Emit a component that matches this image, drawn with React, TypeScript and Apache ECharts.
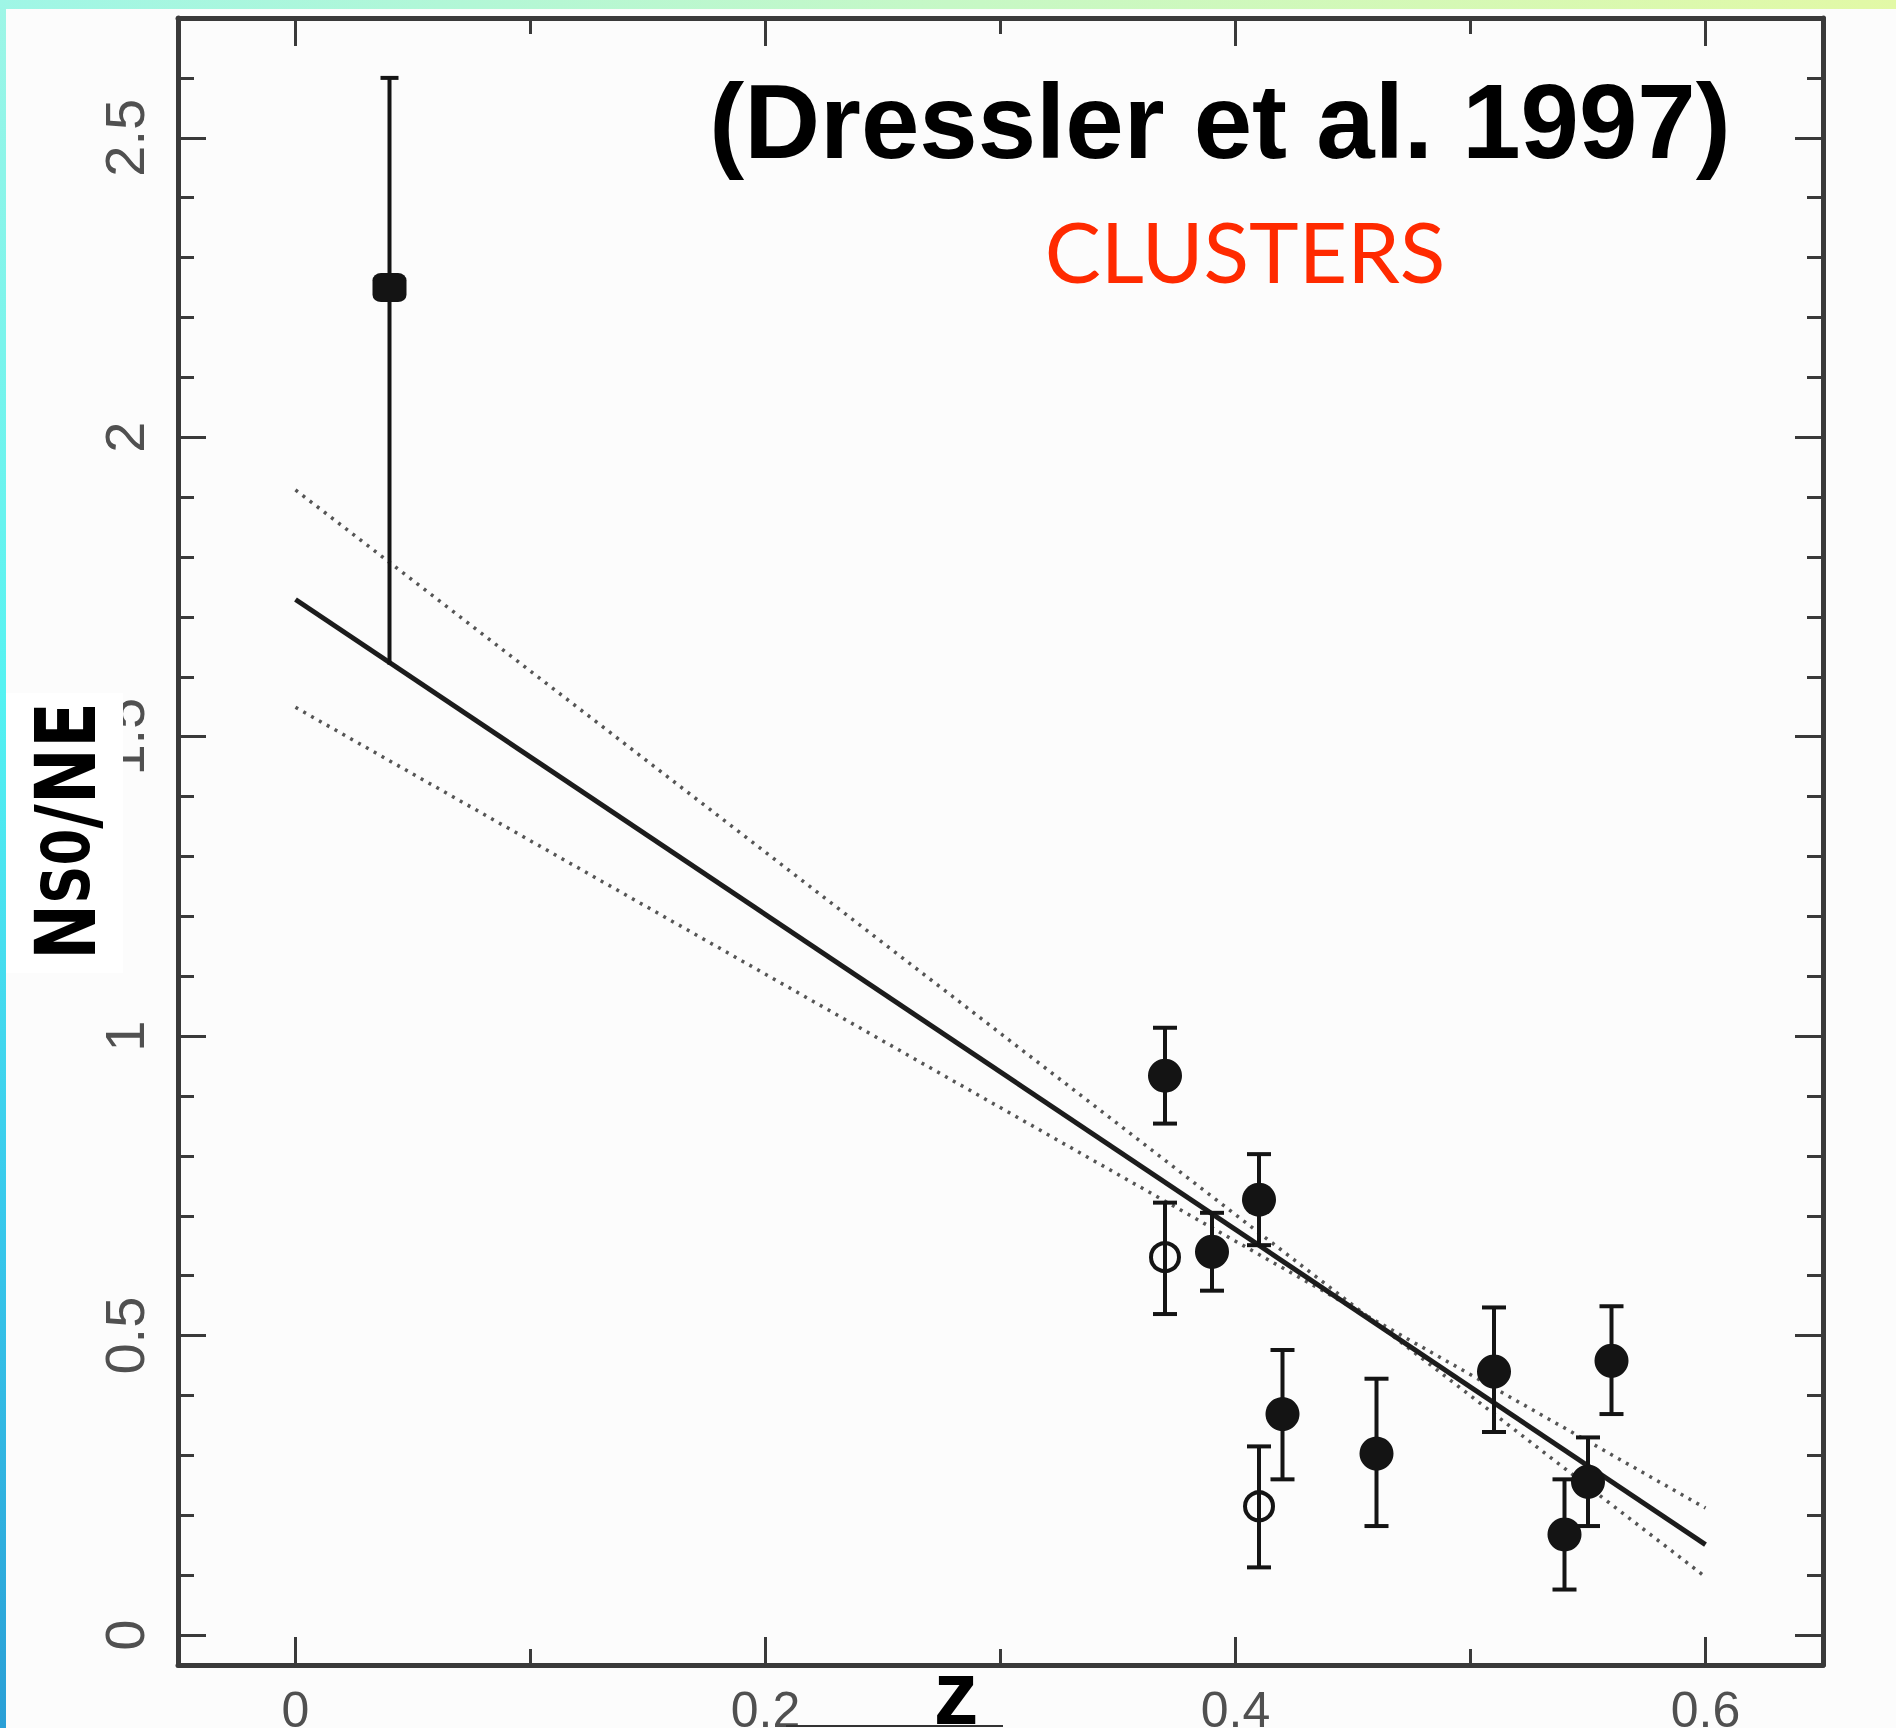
import React, { useEffect, useRef } from "react";
import * as echarts from "echarts";

// ---- data ----
const filledZ = [0.37, 0.39, 0.41, 0.42, 0.46, 0.51, 0.56, 0.54, 0.55];
const filledRatio = [0.934, 0.64, 0.727, 0.369, 0.303, 0.44, 0.458, 0.168, 0.256];
const filledLow = [0.854, 0.575, 0.651, 0.26, 0.182, 0.339, 0.369, 0.076, 0.182];
const filledHigh = [1.014, 0.705, 0.803, 0.476, 0.428, 0.547, 0.549, 0.26, 0.33];

const openZ = [0.37, 0.41];
const openRatio = [0.631, 0.215];
const openLow = [0.536, 0.113];
const openHigh = [0.722, 0.315];

const localZ = [0.04];
const localRatio = [2.25];
const localLow = [1.62];
const localHigh = [2.6];

const fitZ = [0, 0.6];
const fitRatio = [1.729, 0.151];
const bandAZ = [0, 0.6];
const bandARatio = [1.912, 0.097];
const bandBZ = [0, 0.6];
const bandBRatio = [1.549, 0.212];

const xMajorTicks = [0, 0.2, 0.4, 0.6];
const xMinorTicks = [0.1, 0.3, 0.5];
const yMajorTicks = [0, 0.5, 1, 1.5, 2, 2.5];
const yMinorTicks = [
  0.1, 0.2, 0.3, 0.4, 0.6, 0.7, 0.8, 0.9, 1.1, 1.2, 1.3, 1.4, 1.6, 1.7, 1.8, 1.9,
  2.1, 2.2, 2.3, 2.4, 2.6,
];

const titleText = "(Dressler et al. 1997)";
const subtitleText = "CLUSTERS";
const xName = "z";

const X_MIN = -0.05;
const X_MAX = 0.65;
const Y_MIN = -0.05;
const Y_MAX = 2.7;

const AXIS_COLOR = "#3a3a3a";
const INK = "#141414";

function xAxisDef(position: "top" | "bottom", ticks: number[], len: number, line: boolean, labels: boolean) {
  return {
    type: "value",
    position,
    min: X_MIN,
    max: X_MAX,
    axisLine: { show: line, onZero: false, lineStyle: { color: AXIS_COLOR, width: 5 } },
    axisTick: {
      show: true,
      inside: true,
      length: len,
      customValues: ticks,
      lineStyle: { color: AXIS_COLOR, width: 3 },
    },
    axisLabel: labels
      ? {
          show: true,
          customValues: ticks,
          margin: 20,
          fontSize: 50,
          color: "#505050",
          fontFamily: "'Liberation Sans', Arial, sans-serif",
        }
      : { show: false },
    splitLine: { show: false },
  };
}

function yAxisDef(position: "left" | "right", ticks: number[], len: number, line: boolean, labels: boolean) {
  return {
    type: "value",
    position,
    min: Y_MIN,
    max: Y_MAX,
    axisLine: { show: line, onZero: false, lineStyle: { color: AXIS_COLOR, width: 5 } },
    axisTick: {
      show: true,
      inside: true,
      length: len,
      customValues: ticks,
      lineStyle: { color: AXIS_COLOR, width: 3 },
    },
    axisLabel: labels
      ? {
          show: true,
          customValues: ticks,
          rotate: 90,
          margin: 26,
          fontSize: 56,
          color: "#505050",
          fontFamily: "'Liberation Sans', Arial, sans-serif",
        }
      : { show: false },
    splitLine: { show: false },
  };
}

function makeErrorRender(capHalf: number, lowCap: boolean) {
  return (params: any, api: any) => {
    const x = api.value(0);
    const lo = api.value(1);
    const hi = api.value(2);
    const top = api.coord([x, hi]);
    const bot = api.coord([x, lo]);
    const style = { stroke: INK, lineWidth: 4 };
    const children: any[] = [
      { type: "line", shape: { x1: top[0], y1: top[1], x2: bot[0], y2: bot[1] }, style },
      { type: "line", shape: { x1: top[0] - capHalf, y1: top[1], x2: top[0] + capHalf, y2: top[1] }, style },
    ];
    if (lowCap) {
      children.push({
        type: "line",
        shape: { x1: bot[0] - capHalf, y1: bot[1], x2: bot[0] + capHalf, y2: bot[1] },
        style,
      });
    }
    return { type: "group", children };
  };
}

export default function App() {
  const ref = useRef<HTMLDivElement>(null);

  useEffect(() => {
    if (!ref.current) return;
    const chart = echarts.init(ref.current, undefined, { renderer: "svg" });

    const clusterBars = [
      ...filledZ.map((z, i) => [z, filledLow[i], filledHigh[i]]),
      ...openZ.map((z, i) => [z, openLow[i], openHigh[i]]),
    ];
    const localBars = localZ.map((z, i) => [z, localLow[i], localHigh[i]]);

    const option: any = {
      animation: false,
      backgroundColor: "#fcfcfc",
      grid: {
        left: 178,
        right: 73,
        top: 18,
        bottom: 63,
        containLabel: false,
        outerBoundsMode: "none",
      },
      xAxis: [
        xAxisDef("bottom", xMajorTicks, 28, true, true),
        xAxisDef("bottom", xMinorTicks, 16, false, false),
        xAxisDef("top", xMajorTicks, 28, true, false),
        xAxisDef("top", xMinorTicks, 16, false, false),
      ],
      yAxis: [
        yAxisDef("left", yMajorTicks, 28, true, true),
        yAxisDef("left", yMinorTicks, 16, false, false),
        yAxisDef("right", yMajorTicks, 28, true, false),
        yAxisDef("right", yMinorTicks, 16, false, false),
      ],
      series: [
        {
          type: "line",
          data: bandAZ.map((z, i) => [z, bandARatio[i]]),
          showSymbol: false,
          symbol: "none",
          lineStyle: { color: "#555", width: 3.5, type: [3, 6] },
          z: 2,
        },
        {
          type: "line",
          data: bandBZ.map((z, i) => [z, bandBRatio[i]]),
          showSymbol: false,
          symbol: "none",
          lineStyle: { color: "#555", width: 3.5, type: [3, 6] },
          z: 2,
        },
        {
          type: "line",
          data: fitZ.map((z, i) => [z, fitRatio[i]]),
          showSymbol: false,
          symbol: "none",
          lineStyle: { color: "#1c1c1c", width: 5 },
          z: 3,
        },
        {
          type: "custom",
          renderItem: makeErrorRender(12, true),
          data: clusterBars,
          encode: { x: 0, y: [1, 2] },
          z: 4,
        },
        {
          type: "custom",
          renderItem: makeErrorRender(9, false),
          data: localBars,
          encode: { x: 0, y: [1, 2] },
          z: 4,
        },
        {
          type: "scatter",
          data: filledZ.map((z, i) => [z, filledRatio[i]]),
          symbol: "circle",
          symbolSize: 34,
          itemStyle: { color: INK, opacity: 1 },
          z: 5,
        },
        {
          type: "scatter",
          data: openZ.map((z, i) => [z, openRatio[i]]),
          symbol: "circle",
          symbolSize: 28,
          itemStyle: { color: "rgba(0,0,0,0)", borderColor: INK, borderWidth: 4, opacity: 1 },
          z: 5,
        },
        {
          type: "scatter",
          data: localZ.map((z, i) => [z, localRatio[i]]),
          symbol: "roundRect",
          symbolSize: [34, 29],
          itemStyle: { color: INK, opacity: 1 },
          z: 5,
        },
      ],
      graphic: [
        {
          type: "rect",
          z: 100,
          shape: { x: 0, y: 0, width: 1896, height: 9 },
          style: {
            fill: new echarts.graphic.LinearGradient(0, 0, 1, 0, [
              { offset: 0, color: "#9ff6e6" },
              { offset: 0.5, color: "#c6f8c6" },
              { offset: 1, color: "#e2f9a6" },
            ]),
          },
        },
        {
          type: "rect",
          z: 100,
          shape: { x: 0, y: 0, width: 6, height: 1728 },
          style: {
            fill: new echarts.graphic.LinearGradient(0, 0, 0, 1, [
              { offset: 0, color: "#9ff6e6" },
              { offset: 0.4, color: "#55f2f2" },
              { offset: 0.7, color: "#38c9ec" },
              { offset: 1, color: "#2a9fd6" },
            ]),
          },
        },
        {
          type: "rect",
          z: 100,
          shape: { x: 6, y: 693, width: 117, height: 280 },
          style: { fill: "#ffffff" },
        },
        {
          type: "text",
          z: 101,
          x: 66,
          y: 831,
          rotation: Math.PI / 2,
          scaleX: 0.89,
          style: {
            text: "{a|N}{b|S0}{a|/NE}",
            align: "center",
            verticalAlign: "middle",
            fill: "#000",
            rich: {
              a: {
                fontSize: 84,
                fontWeight: "bold",
                fontFamily: "'Liberation Sans Narrow', 'DejaVu Sans Condensed', 'Liberation Sans', sans-serif",
                fill: "#000",
              },
              b: {
                fontSize: 66,
                fontWeight: "bold",
                fontFamily: "'Liberation Sans Narrow', 'DejaVu Sans Condensed', 'Liberation Sans', sans-serif",
                fill: "#000",
              },
            },
          },
        },
        {
          type: "text",
          z: 101,
          x: 1220,
          y: 121,
          style: {
            text: titleText,
            align: "center",
            verticalAlign: "middle",
            fontSize: 105,
            fontWeight: "bold",
            fontFamily: "'Liberation Sans', Arial, sans-serif",
            fill: "#000",
          },
        },
        {
          type: "text",
          z: 101,
          x: 1245,
          y: 250,
          style: {
            text: subtitleText,
            align: "center",
            verticalAlign: "middle",
            fontSize: 84,
            fontWeight: "normal",
            fontFamily: "Lato, 'Open Sans', sans-serif",
            fill: "#ff2a00",
          },
        },
        {
          type: "text",
          z: 101,
          x: 956,
          y: 1693,
          style: {
            text: xName,
            align: "center",
            verticalAlign: "middle",
            fontSize: 90,
            fontWeight: "bold",
            fontFamily: "'Liberation Sans', Arial, sans-serif",
            fill: "#000",
          },
        },
        {
          type: "line",
          z: 100,
          shape: { x1: 786, y1: 1726, x2: 1003, y2: 1726 },
          style: { stroke: "#333", lineWidth: 2 },
        },
      ],
    };

    chart.setOption(option);
    return () => chart.dispose();
  }, []);

  return (
    <div
      ref={ref}
      style={{ position: "fixed", left: 0, top: 0, width: 1896, height: 1728 }}
    />
  );
}
